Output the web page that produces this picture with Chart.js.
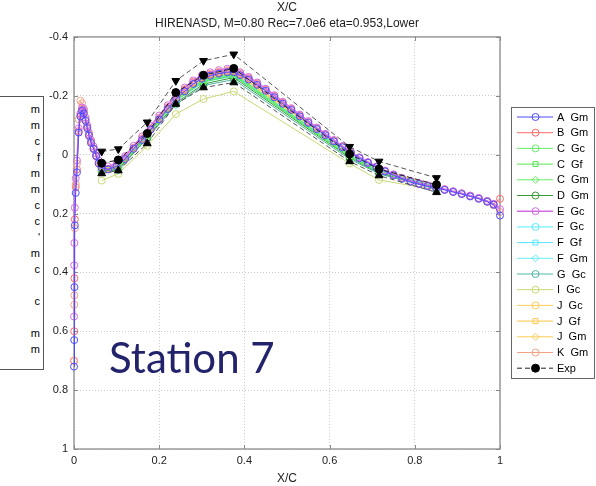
<!DOCTYPE html>
<html>
<head>
<meta charset="utf-8">
<script src="https://cdn.jsdelivr.net/npm/chart.js@4.4.0/dist/chart.umd.min.js"></script>
<style>
  body { margin: 0; background: #fff; }
  #wrap { position: relative; width: 596px; height: 486px; overflow: hidden; background: #fff; }
  #cv { position: absolute; left: 0; top: 0; }
  #side { position: absolute; left: -20px; top: 96px; width: 64px; height: 274px; box-sizing: border-box;
          border: 1px solid #555; background: #fff; padding-top: 4px; font: 11px "Liberation Sans", Arial, sans-serif; color: #000; }
  #side div { height: 16px; line-height: 16px; text-align: right; padding-right: 3px; }
  #station { position: absolute; left: 109px; top: 336px; font: 42px Lato, "Open Sans", sans-serif; line-height: 1; color: #22236a; }
</style>
</head>
<body>
<div id="wrap">
  <canvas id="cv" width="596" height="486"></canvas>
  <div id="side"></div>
  <div id="station">Station 7</div>
</div>
<script>
// chordwise stations of the experiment
const xExp = [0.065, 0.104, 0.172, 0.239, 0.304, 0.375, 0.647, 0.716, 0.851];
const expMean = [0.029, 0.018, -0.072, -0.211, -0.270, -0.293, -0.002, 0.049, 0.102];
const expMin = [-0.011, -0.019, -0.110, -0.251, -0.319, -0.341, -0.027, 0.023, 0.079];
const expMax = [0.064, 0.054, -0.038, -0.172, -0.228, -0.245, 0.023, 0.071, 0.128];

// dense surface points used by the Gm/Gc runs that go all the way round
const xDense = [0, 0.0005, 0.001, 0.002, 0.004, 0.007, 0.011, 0.015, 0.019, 0.023,
  0.027, 0.031, 0.035, 0.04, 0.046, 0.052, 0.058, 0.065, 0.08, 0.1,
  0.12, 0.14, 0.16, 0.18, 0.2, 0.22, 0.24, 0.26, 0.28, 0.3,
  0.32, 0.34, 0.36, 0.375, 0.39, 0.41, 0.43, 0.45, 0.47, 0.49,
  0.51, 0.53, 0.55, 0.57, 0.59, 0.61, 0.63, 0.65, 0.67, 0.69,
  0.71, 0.73, 0.75, 0.77, 0.79, 0.81, 0.83, 0.85, 0.87, 0.89,
  0.91, 0.93, 0.95, 0.97, 0.985, 1.0];

const aGm = [0.72, 0.63, 0.45, 0.24, 0.13, 0.06, -0.075, -0.13, -0.15, -0.14,
  -0.115, -0.09, -0.065, -0.04, -0.02, 0.005, 0.03, 0.045, 0.05, 0.04,
  0.015, -0.02, -0.05, -0.085, -0.12, -0.155, -0.19, -0.215, -0.24, -0.258,
  -0.268, -0.275, -0.28, -0.28, -0.27, -0.255, -0.237, -0.217, -0.195, -0.173,
  -0.152, -0.13, -0.108, -0.087, -0.066, -0.045, -0.025, -0.005, 0.012, 0.028,
  0.043, 0.057, 0.07, 0.082, 0.092, 0.1, 0.107, 0.113, 0.12, 0.127,
  0.134, 0.142, 0.15, 0.16, 0.17, 0.207];
const bGm = [0.70, 0.60, 0.42, 0.22, 0.11, 0.05, -0.08, -0.135, -0.155, -0.145,
  -0.12, -0.095, -0.07, -0.045, -0.022, 0.003, 0.028, 0.043, 0.048, 0.038,
  0.012, -0.023, -0.054, -0.09, -0.125, -0.16, -0.195, -0.22, -0.245, -0.262,
  -0.272, -0.279, -0.284, -0.284, -0.274, -0.259, -0.24, -0.22, -0.198, -0.176,
  -0.155, -0.133, -0.111, -0.09, -0.069, -0.048, -0.028, -0.008, 0.01, 0.026,
  0.041, 0.055, 0.068, 0.08, 0.09, 0.098, 0.105, 0.111, 0.118, 0.125,
  0.132, 0.14, 0.148, 0.158, 0.168, 0.15];
const eGc = [0.55, 0.376, 0.30, 0.18, 0.08, 0.02, -0.09, -0.14, -0.16, -0.155,
  -0.126, -0.1, -0.075, -0.05, -0.028, -0.004, 0.02, 0.035, 0.04, 0.03,
  0.005, -0.03, -0.062, -0.098, -0.133, -0.168, -0.202, -0.228, -0.252, -0.27,
  -0.28, -0.287, -0.292, -0.291, -0.28, -0.264, -0.245, -0.224, -0.202, -0.18,
  -0.158, -0.136, -0.114, -0.092, -0.071, -0.05, -0.029, -0.009, 0.009, 0.025,
  0.04, 0.054, 0.067, 0.079, 0.089, 0.097, 0.104, 0.11, 0.117, 0.124,
  0.131, 0.139, 0.147, 0.157, 0.167, 0.185];
const kGm = [0.70, 0.51, 0.478, 0.25, 0.10, 0.03, -0.12, -0.183, -0.175, -0.15,
  -0.12, -0.092, -0.066, -0.04, -0.018, 0.006, 0.03, 0.045, 0.05, 0.04,
  0.013, -0.022, -0.055, -0.09, -0.126, -0.162, -0.197, -0.223, -0.248, -0.265,
  -0.275, -0.282, -0.287, -0.287, -0.277, -0.262, -0.243, -0.222, -0.2, -0.178,
  -0.156, -0.134, -0.112, -0.09, -0.069, -0.048, -0.027, -0.007, 0.011, 0.027,
  0.042, 0.056, 0.069, 0.081, 0.091, 0.099, 0.106, 0.112, 0.119, 0.126,
  0.133, 0.141, 0.149, 0.16, 0.172, 0.195];

// runs given only at the experimental stations
const cGc = [0.050, 0.045, -0.065, -0.185, -0.250, -0.272, 0.005, 0.058, 0.112];
const cGf = [0.052, 0.046, -0.063, -0.183, -0.248, -0.268, 0.008, 0.060, 0.114];
const cGm = [0.048, 0.043, -0.068, -0.188, -0.254, -0.276, 0.003, 0.056, 0.110];
const dGm = [0.055, 0.050, -0.058, -0.175, -0.240, -0.262, 0.010, 0.062, 0.115];
const fGc = [0.050, 0.044, -0.066, -0.184, -0.249, -0.270, 0.000, 0.055, 0.110];
const fGf = [0.051, 0.046, -0.064, -0.182, -0.247, -0.267, 0.004, 0.058, 0.112];
const fGm = [0.049, 0.043, -0.069, -0.187, -0.252, -0.274, -0.002, 0.054, 0.109];
const gGc = [0.058, 0.052, -0.055, -0.170, -0.235, -0.255, 0.015, 0.065, 0.118];
const iGc = [0.088, 0.065, -0.030, -0.138, -0.189, -0.215, 0.030, 0.086, 0.120];
const jGc = [0.045, 0.040, -0.070, -0.192, -0.258, -0.282, -0.010, 0.050, 0.108];
const jGf = [0.046, 0.041, -0.068, -0.190, -0.256, -0.279, -0.006, 0.052, 0.110];
const jGm = [0.044, 0.039, -0.072, -0.194, -0.260, -0.284, -0.012, 0.048, 0.106];

const yTicks = [-0.4, -0.2, 0, 0.2, 0.4, 0.6, 0.8, 1];
const xTicks = [0, 0.2, 0.4, 0.6, 0.8, 1];

// text visible in the cropped legend of the neighbouring plot
const sideText = ['m', 'm', 'c', 'f', 'm', 'm', 'c', 'c', '\'', 'm', 'c', '', 'c', '', 'm', 'm'];

const side = document.getElementById('side');
sideText.forEach(t => {
  const d = document.createElement('div');
  d.textContent = t || '\u00a0';
  side.appendChild(d);
});

const FONT = '"Liberation Sans", Arial, sans-serif';

function pts(xs, ys) {
  return xs.map((x, i) => ({ x: x, y: ys[i] }));
}

function cfd(label, xs, ys, color, style, width) {
  return {
    label: label,
    data: pts(xs, ys),
    borderColor: color,
    backgroundColor: color,
    pointBorderColor: color,
    pointBackgroundColor: 'rgba(0,0,0,0)',
    pointStyle: style,
    pointRadius: 3.5,
    pointBorderWidth: 1,
    borderWidth: width || 1,
    clip: false
  };
}

const series = [
  cfd('A  Gm', xDense, aGm, '#4d4dff', 'circle'),
  cfd('B  Gm', xDense, bGm, '#ff6a6a', 'circle'),
  cfd('C  Gc', xExp, cGc, '#66ee66', 'circle'),
  cfd('C  Gf', xExp, cGf, '#55e655', 'rect'),
  cfd('C  Gm', xExp, cGm, '#66ee66', 'rectRot'),
  cfd('D  Gm', xExp, dGm, '#3a9a3a', 'circle'),
  cfd('E  Gc', xDense, eGc, '#d46ee6', 'circle', 1.6),
  cfd('F  Gc', xExp, fGc, '#55eeff', 'circle'),
  cfd('F  Gf', xExp, fGf, '#55e6ff', 'rect'),
  cfd('F  Gm', xExp, fGm, '#66eeff', 'rectRot'),
  cfd('G  Gc', xExp, gGc, '#4fb5a5', 'circle'),
  cfd('I  Gc', xExp, iGc, '#c9d873', 'circle'),
  cfd('J  Gc', xExp, jGc, '#ffcc55', 'circle'),
  cfd('J  Gf', xExp, jGf, '#ffc444', 'rect'),
  cfd('J  Gm', xExp, jGm, '#ffcc55', 'rectRot'),
  cfd('K  Gm', xDense, kGm, '#f2a386', 'circle')
];

const expSet = {
  label: 'Exp',
  data: pts(xExp, expMean),
  borderColor: '#222',
  borderDash: [5, 3],
  borderWidth: 1,
  pointStyle: 'circle',
  pointRadius: 4,
  pointBackgroundColor: '#000',
  pointBorderColor: '#000',
  clip: false
};

function bound(ys, rot) {
  return {
    label: '',
    data: pts(xExp, ys),
    borderColor: '#555',
    borderDash: [5, 3],
    borderWidth: 1,
    pointStyle: 'triangle',
    pointRotation: rot,
    pointRadius: 4.5,
    pointBackgroundColor: '#000',
    pointBorderColor: '#000',
    clip: false
  };
}

// first dataset is drawn on top
const drawOrder = [expSet, bound(expMin, 180), bound(expMax, 0),
  series[0], series[6], series[15], series[1],
  series[2], series[3], series[4], series[5], series[7], series[8], series[9],
  series[10], series[11], series[12], series[13], series[14]];

const L = 74, R = 500, T = 37, B = 449;

const framePlugin = {
  id: 'frame',
  beforeDatasetsDraw(chart) {
    const ctx = chart.ctx;
    const a = chart.chartArea;
    const xs = chart.scales.x, ys = chart.scales.y;
    ctx.save();
    ctx.strokeStyle = '#9a9a9a';
    ctx.lineWidth = 1.5;
    ctx.strokeRect(a.left, a.top, a.right - a.left, a.bottom - a.top);
    ctx.lineWidth = 1;
    ctx.strokeStyle = '#888';
    ctx.beginPath();
    xTicks.forEach(v => {
      const px = Math.round(xs.getPixelForValue(v)) + 0.5;
      ctx.moveTo(px, a.bottom); ctx.lineTo(px, a.bottom - 4);
      ctx.moveTo(px, a.top); ctx.lineTo(px, a.top + 4);
    });
    yTicks.forEach(v => {
      const py = Math.round(ys.getPixelForValue(v)) + 0.5;
      ctx.moveTo(a.left, py); ctx.lineTo(a.left + 4, py);
      ctx.moveTo(a.right, py); ctx.lineTo(a.right - 4, py);
    });
    ctx.stroke();
    // y label C_p
    ctx.fillStyle = '#222';
    ctx.translate(34, (a.top + a.bottom) / 2);
    ctx.rotate(-Math.PI / 2);
    ctx.textBaseline = 'alphabetic';
    ctx.font = '13px ' + FONT;
    ctx.fillText('C', -6, 0);
    ctx.font = '9px ' + FONT;
    ctx.fillText('p', 3, 4);
    ctx.restore();
  }
};

const legendPlugin = {
  id: 'sideLegend',
  afterDraw(chart) {
    const ctx = chart.ctx;
    const items = series.concat([expSet]);
    ctx.save();
    ctx.fillStyle = '#fff';
    ctx.fillRect(511, 107, 84, 272);
    ctx.strokeStyle = '#666';
    ctx.lineWidth = 1;
    ctx.strokeRect(511.5, 107.5, 83, 271);
    items.forEach((ds, i) => {
      const y = 117 + i * 15.7;
      ctx.setLineDash(ds.borderDash || []);
      ctx.strokeStyle = ds.borderColor;
      ctx.lineWidth = ds.borderWidth;
      ctx.beginPath();
      ctx.moveTo(517, y);
      ctx.lineTo(553, y);
      ctx.stroke();
      ctx.setLineDash([]);
      ctx.fillStyle = ds.pointBackgroundColor;
      ctx.strokeStyle = ds.pointBorderColor;
      ctx.lineWidth = 1;
      Chart.helpers.drawPoint(ctx, { pointStyle: ds.pointStyle, radius: ds.pointRadius, rotation: 0, borderWidth: 1 }, 535.5, y);
      ctx.fillStyle = '#000';
      ctx.font = '11px ' + FONT;
      ctx.textBaseline = 'middle';
      ctx.fillText(ds.label, 557, y + 0.5);
    });
    ctx.restore();
  }
};

new Chart(document.getElementById('cv'), {
  type: 'line',
  data: { datasets: drawOrder },
  options: {
    responsive: false,
    animation: false,
    devicePixelRatio: 1,
    layout: { padding: { left: 0, right: 596 - R, top: 0, bottom: 0 } },
    elements: { line: { tension: 0 } },
    plugins: {
      legend: { display: false },
      tooltip: { enabled: false },
      title: {
        display: true,
        fullSize: false,
        text: ['X/C', 'HIRENASD, M=0.80 Rec=7.0e6 eta=0.953,Lower'],
        color: '#222',
        font: { family: FONT, size: 12, weight: 'normal', lineHeight: 1.33 },
        padding: { top: 0, bottom: T - 32 }
      }
    },
    scales: {
      x: {
        type: 'linear',
        min: 0,
        max: 1,
        afterBuildTicks: s => { s.ticks = xTicks.map(v => ({ value: v })); },
        afterFit: s => { s.height = 486 - B; },
        ticks: {
          padding: 5,
          color: '#222',
          font: { family: FONT, size: 11 },
          maxRotation: 0,
          callback: v => String(Math.round(v * 10) / 10)
        },
        grid: { color: '#c8c8c8', drawTicks: false },
        border: { display: false, dash: [1, 2] },
        title: { display: true, text: 'X/C', color: '#222', font: { family: FONT, size: 12 }, padding: { top: 0, bottom: 0 } }
      },
      y: {
        type: 'linear',
        reverse: true,
        min: -0.4,
        max: 1,
        afterBuildTicks: s => { s.ticks = yTicks.map(v => ({ value: v })); },
        afterFit: s => { s.width = L; },
        ticks: {
          padding: 6,
          color: '#222',
          font: { family: FONT, size: 11 },
          callback: v => String(Math.round(v * 10) / 10)
        },
        grid: { color: '#c8c8c8', drawTicks: false },
        border: { display: false, dash: [1, 2] }
      }
    }
  },
  plugins: [framePlugin, legendPlugin]
});
</script>
</body>
</html>
